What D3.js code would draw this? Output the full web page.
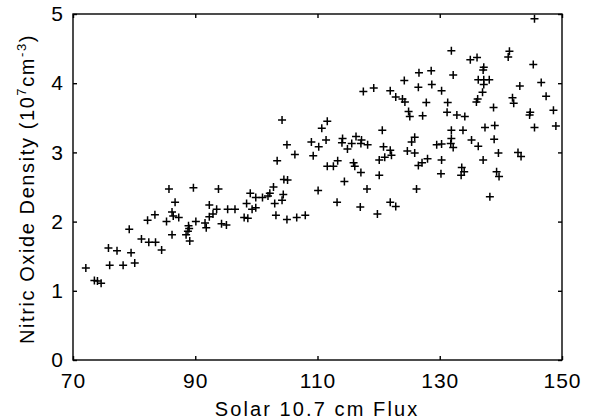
<!DOCTYPE html>
<html><head><meta charset="utf-8">
<script src="https://cdn.jsdelivr.net/npm/d3@7"></script>
<style>body{margin:0;background:#fff}svg{display:block}text{font-family:"Liberation Sans",Arial,sans-serif;fill:#000}</style>
</head><body><svg id="c" width="591" height="420"></svg>
<script>
const fluxValues = [72.1,73.5,74.0,74.6,75.8,76.0,77.2,78.2,79.2,79.5,80.1,81.2,82.2,82.4,83.4,83.5,84.5,85.3,85.7,86.2,86.2,86.4,86.7,87.3,88.5,88.8,89.0,89.1,88.9,89.7,90.1,91.6,91.8,92.3,92.9,92.3,93.5,93.8,94.3,95.1,95.3,96.5,98.0,98.6,98.4,99.0,99.3,99.9,99.9,101.0,101.9,102.2,102.8,103.0,103.2,103.4,104.2,104.4,104.2,104.5,105.1,105.0,105.0,106.3,106.6,108.0,109.0,109.3,110.2,110.1,110.7,111.4,111.6,111.6,112.6,113.3,113.2,114.4,114.1,114.0,114.9,115.6,116.3,117.2,117.1,118.2,115.9,116.1,117.1,117.0,117.5,119.2,118.1,119.8,120.1,120.1,120.6,120.8,121.0,121.9,122.1,121.9,122.8,121.9,122.8,123.9,124.3,124.2,124.9,125.1,125.9,125.4,124.7,125.9,126.2,126.5,127.1,128.0,126.6,128.6,126.5,128.7,127.2,127.8,129.5,130.3,130.3,130.3,130.2,131.3,131.2,132.8,134.1,131.9,132.2,131.9,133.8,131.9,131.8,132.2,133.6,134.0,133.5,135.0,136.1,137.2,137.1,136.3,137.2,138.1,137.2,137.0,136.2,136.0,135.2,136.3,137.4,139.0,138.9,138.8,137.1,139.6,139.3,139.7,138.2,141.4,141.2,141.9,142.1,143.1,142.8,143.3,144.8,144.7,145.3,145.5,145.5,146.6,147.4,148.6,149.0];
const densityValues = [1.33,1.15,1.14,1.11,1.62,1.37,1.58,1.37,1.89,1.55,1.40,1.75,2.02,1.70,2.10,1.70,1.59,2.00,2.47,1.81,2.14,2.08,2.28,2.06,1.81,1.86,1.90,1.72,1.94,2.49,2.00,1.98,1.91,2.07,2.11,2.24,2.18,2.47,1.97,1.95,2.18,2.18,2.06,2.05,2.26,2.41,2.18,2.20,2.35,2.35,2.37,2.41,2.50,2.26,2.09,2.88,2.31,2.39,3.47,2.61,2.60,3.11,2.03,2.97,2.06,2.09,3.15,2.95,3.08,2.45,3.35,3.18,3.45,2.80,2.80,2.88,2.28,2.58,3.20,3.14,3.05,3.13,3.23,3.18,3.13,3.11,2.85,2.80,2.71,2.21,3.88,3.93,2.47,2.11,2.89,2.67,3.32,3.08,2.93,3.03,2.96,2.28,2.22,3.89,3.80,3.77,3.73,4.04,3.59,3.52,3.22,3.15,3.02,2.99,2.47,2.81,2.85,2.91,4.15,4.18,3.94,3.98,3.53,3.72,3.11,3.12,3.89,2.89,2.69,3.72,3.58,3.54,3.52,4.47,4.12,3.32,3.32,3.20,3.13,3.07,2.78,2.72,2.67,4.34,4.37,4.23,4.19,4.05,4.05,4.05,3.98,3.87,3.77,3.73,3.18,3.09,3.36,3.39,3.19,3.65,2.89,2.99,2.72,2.65,2.36,4.46,4.38,3.79,3.71,3.96,3.00,2.94,3.58,3.54,4.27,4.93,3.36,4.01,3.81,3.61,3.38];
const xTicks = [70,90,110,130,150];
const yTicks = [0,1,2,3,4,5];
const xTitle = "Solar 10.7 cm Flux";

const svg = d3.select("#c");
const L=73,R=562,T=14,B=360;
const x = d3.scaleLinear().domain([70,150]).range([L,R]);
const y = d3.scaleLinear().domain([0,5]).range([B,T]);

svg.append("rect").attr("x",L).attr("y",T).attr("width",R-L).attr("height",B-T)
  .attr("fill","none").attr("stroke","#000").attr("stroke-width",1.4);

const tk=4;
const gB = svg.append("g").attr("transform",`translate(0,${B})`)
  .call(d3.axisBottom(x).tickValues(xTicks).tickFormat(d3.format("d")).tickSizeInner(-tk).tickSizeOuter(0).tickPadding(21));
const gT = svg.append("g").attr("transform",`translate(0,${T})`)
  .call(d3.axisTop(x).tickValues(xTicks).tickSizeInner(-tk).tickSizeOuter(0).tickFormat(""));
const gL = svg.append("g").attr("transform",`translate(${L},0)`)
  .call(d3.axisLeft(y).tickValues(yTicks).tickFormat(d3.format("d")).tickSizeInner(-tk).tickSizeOuter(0).tickPadding(9));
const gR = svg.append("g").attr("transform",`translate(${R},0)`)
  .call(d3.axisRight(y).tickValues(yTicks).tickSizeInner(-tk).tickSizeOuter(0).tickFormat(""));
[gB,gT,gL,gR].forEach(g=>{
  g.select(".domain").remove();
  g.selectAll("line").attr("stroke","#000").attr("stroke-width",1.4);
  g.selectAll("text").attr("font-size",21).attr("font-family","Liberation Sans, Arial, sans-serif").attr("fill","#000").attr("letter-spacing",1);
});
gB.selectAll("text").attr("dy","0.35em");

const pts = fluxValues.map((v,i)=>({x:v,y:densityValues[i]}));
const s=4;
const mk = svg.append("g").attr("stroke","#000").attr("stroke-width",1.5);
mk.selectAll("path").data(pts).join("path")
  .attr("d",d=>{const px=x(d.x),py=y(d.y);return `M${px-s},${py}H${px+s}M${px},${py-s}V${py+s}`;});

svg.append("text").attr("x",317).attr("y",416).attr("text-anchor","middle")
  .attr("font-size",20).attr("letter-spacing",2.1).text(xTitle);
const yt = svg.append("text").attr("transform",`translate(34,189) rotate(-90)`)
  .attr("text-anchor","middle").attr("font-size",20).attr("letter-spacing",1.6);
yt.append("tspan").text("Nitric Oxide Density (10");
yt.append("tspan").attr("font-size",13).attr("dy",-8).text("7");
yt.append("tspan").attr("dy",8).text("cm");
yt.append("tspan").attr("font-size",13).attr("dy",-8).text("-3");
yt.append("tspan").attr("dy",8).text(")");
</script></body></html>
